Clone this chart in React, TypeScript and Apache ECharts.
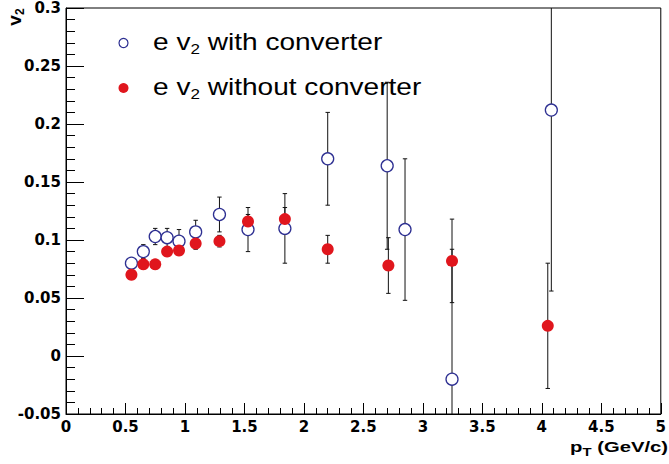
import React, { useEffect, useRef } from 'react';
import * as echarts from 'echarts';

// e v2 with converter (open blue circles)
const ptWith = [0.55, 0.65, 0.75, 0.85, 0.95, 1.09, 1.29, 1.53, 1.84, 2.2, 2.7, 2.85, 3.245, 4.08];
const v2With = [0.08, 0.09, 0.103, 0.102, 0.099, 0.107, 0.122, 0.109, 0.11, 0.17, 0.164, 0.109, -0.02, 0.212];
const errWith = [0.003, 0.006, 0.007, 0.008, 0.01, 0.01, 0.015, 0.019, 0.03, 0.04, 0.072, 0.061, 0.112, 0.156];

// e v2 without converter (filled red circles)
const ptWithout = [0.55, 0.65, 0.75, 0.85, 0.95, 1.09, 1.29, 1.53, 1.84, 2.2, 2.71, 3.245, 4.05];
const v2Without = [0.07, 0.079, 0.079, 0.09, 0.091, 0.097, 0.099, 0.116, 0.118, 0.092, 0.078, 0.082, 0.026];
const errWithout = [0.004, 0.004, 0.004, 0.004, 0.004, 0.005, 0.005, 0.006, 0.01, 0.012, 0.024, 0.036, 0.054];

const legendWith = 'with converter';
const legendWithout = 'without converter';

const BLUE = '#2e3092';
const RED = '#e0161d';

const errorRender = (params: any, api: any) => {
  const x = api.value(0);
  const y = api.value(1);
  const e = api.value(2);
  const p1 = api.coord([x, y + e]);
  const p2 = api.coord([x, y - e]);
  const cs = params.coordSys;
  const top = Math.max(p1[1], cs.y);
  const bot = Math.min(p2[1], cs.y + cs.height);
  const style = { stroke: '#111', lineWidth: 1 };
  const children: any[] = [
    { type: 'line', shape: { x1: p1[0], y1: top, x2: p1[0], y2: bot }, style },
  ];
  if (p1[1] >= cs.y) {
    children.push({ type: 'line', shape: { x1: p1[0] - 2.2, y1: p1[1], x2: p1[0] + 2.2, y2: p1[1] }, style });
  }
  if (p2[1] <= cs.y + cs.height) {
    children.push({ type: 'line', shape: { x1: p2[0] - 2.2, y1: p2[1], x2: p2[0] + 2.2, y2: p2[1] }, style });
  }
  return { type: 'group', children };
};

export default function App() {
  const ref = useRef<HTMLDivElement>(null);
  useEffect(() => {
    if (!ref.current) return;
    const chart = echarts.init(ref.current, undefined, { renderer: 'svg' });
    const tickFont = {
      fontFamily: 'DejaVu Sans',
      fontWeight: 'bold' as const,
      fontSize: 15,
      color: '#000',
    };
    const legendRich = {
      n: { fontFamily: 'Liberation Sans', fontSize: 23, color: '#000', lineHeight: 26 },
      s: { fontFamily: 'Liberation Sans', fontSize: 14, color: '#000', lineHeight: 14, padding: [15, 0, 0, 0] },
    };
    const option: any = {
      animation: false,
      grid: {
        left: 66,
        right: 1,
        top: 8,
        bottom: 50,
        show: true,
        borderColor: '#000',
        borderWidth: 1,
        backgroundColor: 'transparent',
      },
      xAxis: {
        type: 'value',
        min: 0,
        max: 5,
        interval: 0.5,
        axisLine: { show: true, onZero: false, lineStyle: { color: '#000', width: 1 } },
        axisTick: { show: true, inside: true, length: 11, lineStyle: { color: '#000' } },
        minorTick: { show: true, splitNumber: 5, length: 6, lineStyle: { color: '#000' } },
        splitLine: { show: false },
        axisLabel: { ...tickFont, margin: 5 },
      },
      yAxis: {
        type: 'value',
        min: -0.05,
        max: 0.3,
        interval: 0.05,
        axisLine: { show: true, onZero: false, lineStyle: { color: '#000', width: 1 } },
        axisTick: { show: true, inside: true, length: 18, lineStyle: { color: '#000' } },
        minorTick: { show: true, splitNumber: 5, length: 9, lineStyle: { color: '#000' } },
        splitLine: { show: false },
        axisLabel: { ...tickFont, margin: 5 },
      },
      series: [
        {
          type: 'custom',
          name: 'err with',
          renderItem: errorRender,
          data: ptWith.map((p, i) => [p, v2With[i], errWith[i]]),
          encode: { x: 0, y: 1 },
          clip: false,
          z: 1,
        },
        {
          type: 'custom',
          name: 'err without',
          renderItem: errorRender,
          data: ptWithout.map((p, i) => [p, v2Without[i], errWithout[i]]),
          encode: { x: 0, y: 1 },
          clip: false,
          z: 1,
        },
        {
          type: 'scatter',
          name: legendWith,
          data: ptWith.map((p, i) => [p, v2With[i]]),
          symbol: 'circle',
          symbolSize: 12,
          itemStyle: { color: '#fff', borderColor: BLUE, borderWidth: 1.3, opacity: 1 },
          z: 3,
        },
        {
          type: 'scatter',
          name: legendWithout,
          data: ptWithout.map((p, i) => [p, v2Without[i]]),
          symbol: 'circle',
          symbolSize: 12,
          itemStyle: { color: RED, opacity: 1 },
          z: 4,
        },
      ],
      graphic: [
        {
          type: 'circle',
          shape: { cx: 123.5, cy: 43, r: 4.5 },
          style: { fill: '#fff', stroke: BLUE, lineWidth: 1.2 },
        },
        {
          type: 'circle',
          shape: { cx: 123.5, cy: 88, r: 5 },
          style: { fill: RED },
        },
        {
          type: 'text',
          x: 153,
          y: 42,
          scaleX: 1.22,
          style: {
            text: '{n|e v}{s|2}{n| ' + legendWith + '}',
            rich: legendRich,
            align: 'left',
            verticalAlign: 'middle',
          },
        },
        {
          type: 'text',
          x: 153,
          y: 87,
          scaleX: 1.22,
          style: {
            text: '{n|e v}{s|2}{n| ' + legendWithout + '}',
            rich: legendRich,
            align: 'left',
            verticalAlign: 'middle',
          },
        },
        {
          type: 'text',
          x: 668,
          y: 447,
          scaleX: 1.35,
          style: {
            text: '{n|p}{s|T}{n| (GeV/c)}',
            rich: {
              n: { fontFamily: 'Liberation Sans', fontWeight: 'bold', fontSize: 15, color: '#000', lineHeight: 17 },
              s: { fontFamily: 'Liberation Sans', fontWeight: 'bold', fontSize: 11, color: '#000', lineHeight: 11, padding: [10, 0, 0, 0] },
            },
            align: 'right',
            verticalAlign: 'middle',
          },
        },
        {
          type: 'text',
          x: 14,
          y: 17,
          rotation: Math.PI / 2,
          style: {
            text: '{n|v}{s|2}',
            rich: {
              n: { fontFamily: 'Liberation Sans', fontWeight: 'bold', fontSize: 19, color: '#000', lineHeight: 20 },
              s: { fontFamily: 'Liberation Sans', fontWeight: 'bold', fontSize: 12, color: '#000', lineHeight: 12, padding: [11, 0, 0, 0] },
            },
            align: 'center',
            verticalAlign: 'middle',
          },
        },
      ],
    };
    chart.setOption(option);
    return () => chart.dispose();
  }, []);
  return (
    <div
      ref={ref}
      style={{ position: 'absolute', left: 0, top: 0, width: 669, height: 464 }}
    />
  );
}
